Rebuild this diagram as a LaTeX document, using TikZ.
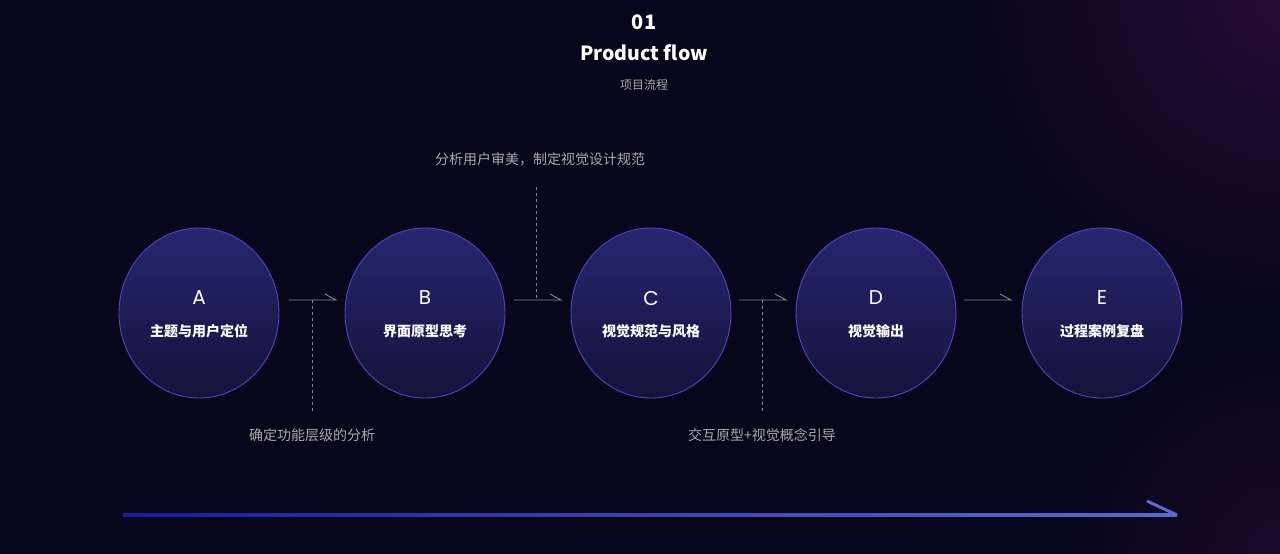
\documentclass[tikz,border=0pt]{standalone}
\usepackage{fontspec}
\setmainfont{Noto Sans CJK SC}
\newfontfamily\letterfont{Poppins}
\usetikzlibrary{shapes.geometric}
\definecolor{bgnavy}{HTML}{07061A}
\definecolor{glowpurple}{HTML}{260C36}
\definecolor{ringblue}{HTML}{5543C4}
\definecolor{fillhi}{HTML}{27266F}
\definecolor{filllo}{HTML}{13133A}
\definecolor{notegray}{HTML}{A9A9A9}
\definecolor{linkgray}{HTML}{8A8A8A}
\definecolor{flowdark}{HTML}{1C1C9A}
\definecolor{flowlight}{HTML}{5B6BC9}
\tikzset{every picture/.style={line width=0.75pt}}
\tikzset{
  stage/.style={ellipse, draw=ringblue, line width=0.9pt, minimum width=160, minimum height=170, inner sep=0pt, top color=fillhi, bottom color=filllo},
  letter/.style={text=white, font=\letterfont\fontsize{20}{22}\selectfont},
  stagename/.style={text=white, font=\bfseries\fontsize{14}{16}\selectfont},
  note/.style={text=notegray, font=\fontsize{14}{16}\selectfont},
  link/.style={draw=linkgray, line width=0.9pt},
  guide/.style={draw=linkgray, line width=0.8pt, dash pattern={on 3pt off 3pt}}
}

\begin{document}
\begin{tikzpicture}[x=1pt,y=1pt,yscale=-1,xscale=1]
\useasboundingbox (0,0) rectangle (1280,554);
\begin{scope}
\clip (0,0) rectangle (1280,554);
%Background
\fill [bgnavy] (0,0) rectangle (1280,554);
\fill [inner color=glowpurple!60!bgnavy, outer color=bgnavy] (1280,554) circle (215);
\fill [inner color=glowpurple, outer color=bgnavy] (1280,0) circle (320);
\end{scope}

% Text Node
\node (num) at (644,22) [text=white, font=\bfseries\fontsize{20}{22}\selectfont] {01};
% Text Node
\node (heading) at (644,53) [text=white, font=\bfseries\fontsize{19.5}{22}\selectfont] {Product flow};
% Text Node
\node (subhead) at (644,85) [text=notegray, font=\fontsize{12}{14}\selectfont] {项目流程};

%Shape: Ellipse
\node (A) at (199,313) [stage] {};
\node (B) at (425,313) [stage] {};
\node (C) at (651,313) [stage] {};
\node (D) at (876,313) [stage] {};
\node (E) at (1102,313) [stage] {};

% Text Node
\node (la) at (199,298) [letter] {A};
\node (lb) at (425,298) [letter] {B};
\node (lc) at (651,298) [letter] {C};
\node (ld) at (876,298) [letter] {D};
\node (le) at (1102,298) [letter] {E};
% Text Node
\node (na) at (199,331) [stagename] {主题与用户定位};
\node (nb) at (425,331) [stagename] {界面原型思考};
\node (nc) at (651,331) [stagename] {视觉规范与风格};
\node (nd) at (876,331) [stagename] {视觉输出};
\node (ne) at (1102,331) [stagename] {过程案例复盘};

%Straight Lines
\coordinate (ab1) at (289,300); \coordinate (ab2) at (336,300);
\coordinate (bc1) at (514,300); \coordinate (bc2) at (561,300);
\coordinate (cd1) at (739,300); \coordinate (cd2) at (786,300);
\coordinate (de1) at (964,300); \coordinate (de2) at (1011,300);
\foreach \p in {ab,bc,cd,de}
  \draw [link] (\p1) -- (\p2) -- ++(-11,-6);

%Straight Lines
\coordinate (g1) at (312,300); \coordinate (g1e) at (312,412);
\coordinate (g2) at (536,298); \coordinate (g2e) at (536,185);
\coordinate (g3) at (762,300); \coordinate (g3e) at (762,412);
\draw [guide] (g1) -- (g1e);
\draw [guide] (g2) -- (g2e);
\draw [guide] (g3) -- (g3e);

% Text Node
\node (n1) at (312,435) [note] {确定功能层级的分析};
\node (n2) at (540,159) [note] {分析用户审美，制定视觉设计规范};
\node (n3) at (762,435) [note] {交互原型+视觉概念引导};

%Straight Lines
\coordinate (fs) at (123,515); \coordinate (fe) at (1177,515);
\shade [left color=flowdark, right color=flowlight] (123,513.5) rectangle (1177,516.5);
\draw [flowlight, line width=3pt] (fe) -- ++(-30,-14);

\end{tikzpicture}
\end{document}
